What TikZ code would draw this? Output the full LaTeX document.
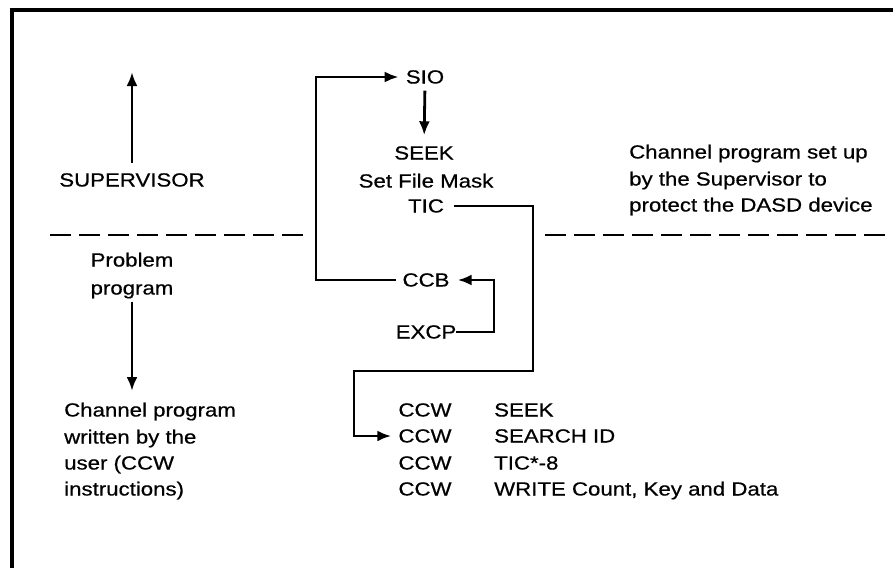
\documentclass[tikz,border=0pt]{standalone}
\usepackage{fontspec}
\setmainfont[FakeStretch=1.17,FakeBold=0.6]{Liberation Sans}
\usetikzlibrary{arrows.meta}
\begin{document}
\begin{tikzpicture}[x=1pt,y=-1pt,
  every node/.style={font=\fontsize{19}{26}\selectfont, inner sep=0pt, text height=13pt, text depth=0pt},
  conn/.style={line width=2.8pt},
  arr/.style={conn,-{Latex[length=14pt,width=11pt]}},
  sepline/.style={line width=2.6pt, dash pattern=on 21pt off 8pt},
  frameline/.style={line width=3.2pt}]
\useasboundingbox (0,0) rectangle (893,568);
\draw[frameline] (12,568) -- (12,10) -- (893,10);

% left column
\node (sup) at (132,180) {SUPERVISOR};
\coordinate (supTop) at (132,72);
\draw[arr, shorten <=10pt] (sup.north) -- (supTop);

\node (prob1) at (132,260) {Problem};
\node (prob2) at (132,288) {program};
\coordinate (probBot) at (132,391);
\draw[arr, shorten <=7pt] (prob2.south) -- (probBot);

\node[anchor=west] (ch1) at (64,410) {Channel program};
\node[anchor=west] (ch2) at (64,437) {written by the};
\node[anchor=west] (ch3) at (64,463) {user (CCW};
\node[anchor=west] (ch4) at (64,489) {instructions)};

% right description
\node[anchor=west] (r1) at (629,152) {Channel program set up};
\node[anchor=west] (r2) at (629,179) {by the Supervisor to};
\node[anchor=west] (r3) at (629,205) {protect the DASD device};

% dashed separators
\coordinate (dl1) at (50,235);
\coordinate (dl2) at (303,235);
\coordinate (dr1) at (545,235);
\coordinate (dr2) at (893,235);
\draw[sepline] (dl1) -- (dl2);
\draw[sepline] (dr1) -- (dr2);

% centre column
\node (sio) at (425,77) {SIO};
\node (seek) at (424,153) {SEEK};
\node (sfm) at (426,181) {Set File Mask};
\node (tic) at (426,206) {TIC};
\node (ccb) at (426,280) {CCB};
\node (excp) at (426,332) {EXCP};

\draw[arr, shorten <=7pt, shorten >=11pt] (sio.south) -- (seek.north);

\coordinate (loopL) at (316,77);
\draw[arr, shorten <=6pt, shorten >=7pt] (ccb.west) -| (loopL) -- (sio.west);

\coordinate (excpR) at (494,332);
\draw[arr, shorten >=8pt] (excp.east) -- (excpR) |- (ccb.east);

% CCW list
\node (ccw1) at (425,410) {CCW};
\node (ccw2) at (425,436) {CCW};
\node (ccw3) at (425,463) {CCW};
\node (ccw4) at (425,489) {CCW};
\node[anchor=west] (op1) at (494,410) {SEEK};
\node[anchor=west] (op2) at (494,436) {SEARCH ID};
\node[anchor=west] (op3) at (494,463) {TIC*-8};
\node[anchor=west] (op4) at (494,489) {WRITE Count, Key and Data};

\coordinate (ticR) at (533,371);
\coordinate (ticL) at (354,371);
\draw[arr, shorten <=10pt, shorten >=7pt] (tic.east) -| (ticR) -- (ticL) |- (ccw2.west);
\end{tikzpicture}
\end{document}
